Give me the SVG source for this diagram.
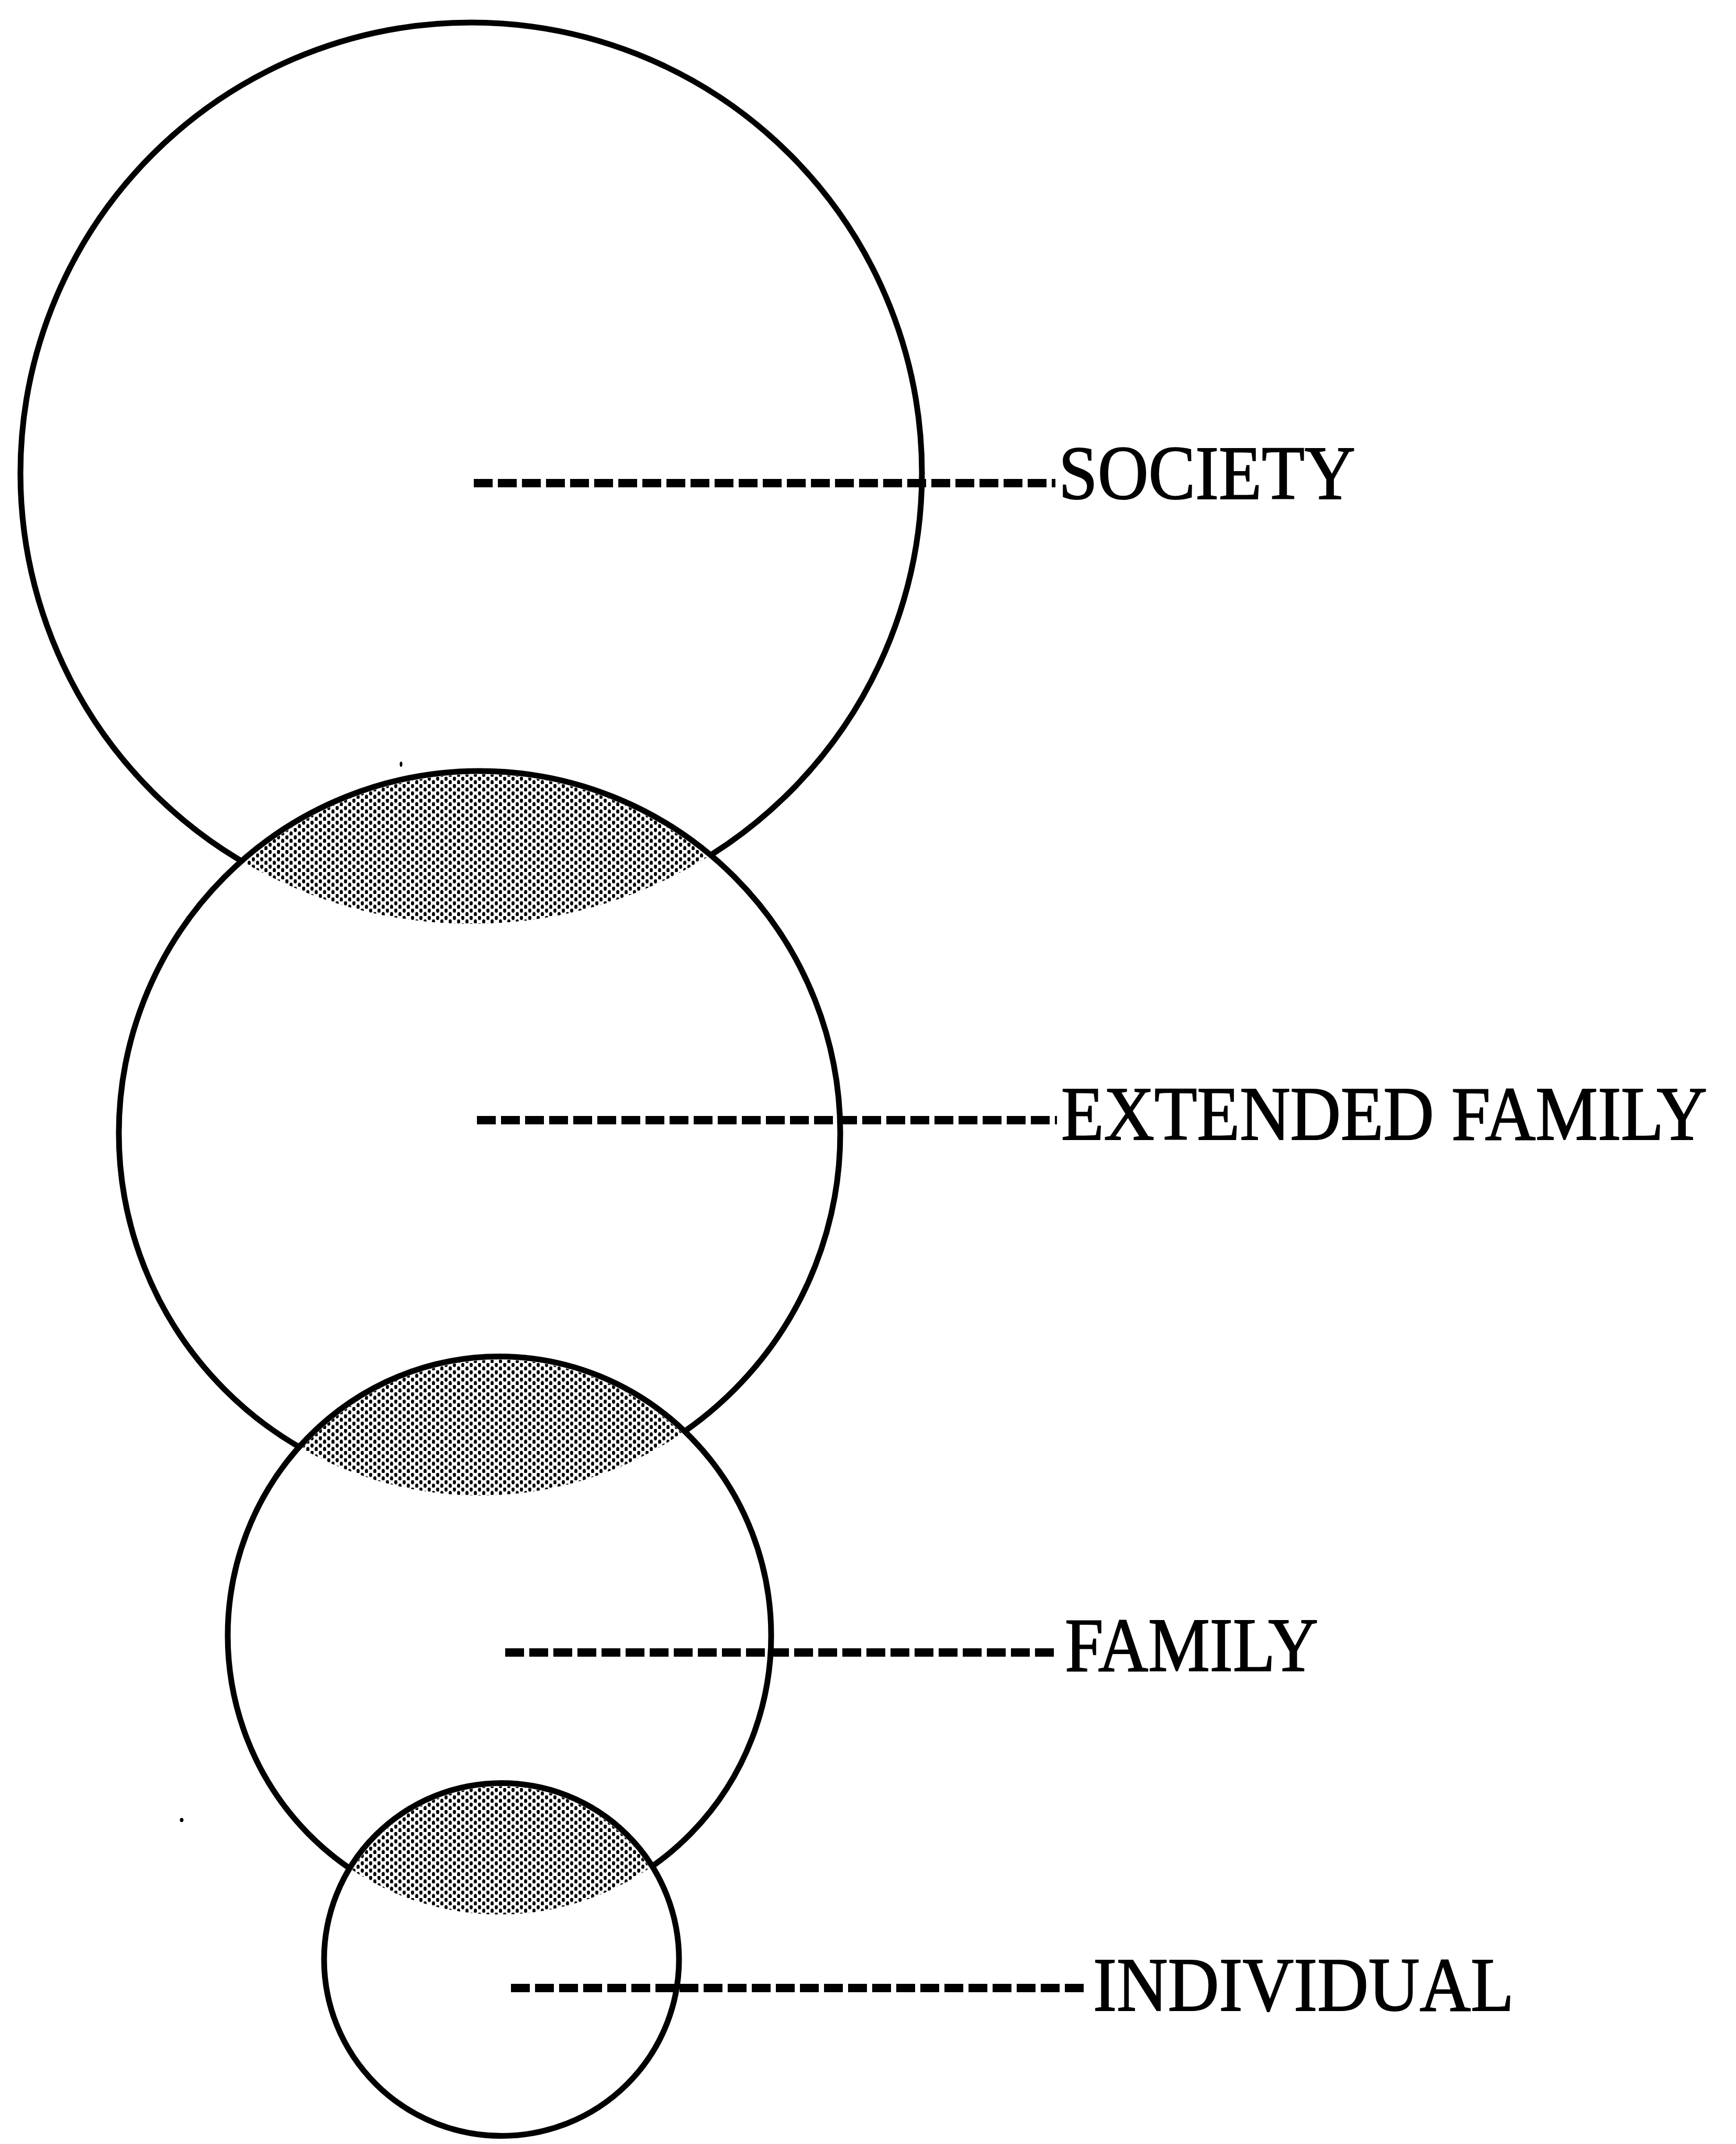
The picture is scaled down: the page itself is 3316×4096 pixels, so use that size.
<svg xmlns="http://www.w3.org/2000/svg" width="3316" height="4096" viewBox="0 0 3316 4096">
<style>
.ring{fill:#fff;stroke:#000;stroke-width:11}
.shade{fill:url(#stipple)}
.lead{stroke:#000;stroke-width:16;stroke-dasharray:36 10;fill:none}
.label{font-family:"Liberation Serif","Times New Roman",serif;font-size:146px;fill:#000;stroke:#000;stroke-width:2}
</style>
<defs>
<pattern id="stipple" patternUnits="userSpaceOnUse" width="16" height="14">
<ellipse cx="4" cy="3.5" rx="3" ry="4.3" fill="#000"/>
<ellipse cx="12" cy="10.5" rx="3" ry="4.3" fill="#000"/>
</pattern>
<clipPath id="clip-society"><circle cx="900" cy="904" r="861"/></clipPath>
<clipPath id="clip-ext"><ellipse cx="916" cy="2165" rx="689" ry="692"/></clipPath>
<clipPath id="clip-family"><ellipse cx="954" cy="3124.5" rx="519" ry="533"/></clipPath>
</defs>
<rect width="3316" height="4096" fill="#fff"/>
<g id="society">
<circle class="ring" cx="900" cy="904" r="861"/>
</g>
<g id="extended-family">
<ellipse class="ring" cx="916" cy="2165" rx="689" ry="692"/>
<ellipse class="shade" cx="916" cy="2165" rx="683" ry="686" clip-path="url(#clip-society)"/>
</g>
<g id="family">
<ellipse class="ring" cx="954" cy="3124.5" rx="519" ry="533"/>
<ellipse class="shade" cx="954" cy="3124.5" rx="513" ry="527" clip-path="url(#clip-ext)"/>
</g>
<g id="individual">
<ellipse class="ring" cx="958" cy="3743.5" rx="339" ry="337"/>
<ellipse class="shade" cx="958" cy="3743.5" rx="333" ry="331" clip-path="url(#clip-family)"/>
</g>
<g id="connectors">
<line class="lead" x1="905" y1="923" x2="2016" y2="923"/>
<line class="lead" x1="911" y1="2140" x2="2019" y2="2140"/>
<line class="lead" x1="965" y1="3157" x2="2020" y2="3157"/>
<line class="lead" x1="976" y1="3798" x2="2075" y2="3798"/>
</g>
<g id="labels">
<text class="label" x="2022" y="953" textLength="567" lengthAdjust="spacingAndGlyphs">SOCIETY</text>
<text class="label" transform="translate(2027 2177) scale(1 1.07)" x="0" y="0" style="font-size:136px" textLength="1234" lengthAdjust="spacingAndGlyphs">EXTENDED FAMILY</text>
<text class="label" x="2034" y="3192" textLength="484" lengthAdjust="spacingAndGlyphs">FAMILY</text>
<text class="label" x="2088" y="3841" textLength="804" lengthAdjust="spacingAndGlyphs">INDIVIDUAL</text>
</g>
<g id="specks">
<ellipse cx="766" cy="1460" rx="2.5" ry="5" fill="#000"/>
<ellipse cx="347" cy="3477" rx="3.5" ry="4" fill="#000"/>
</g>
</svg>
